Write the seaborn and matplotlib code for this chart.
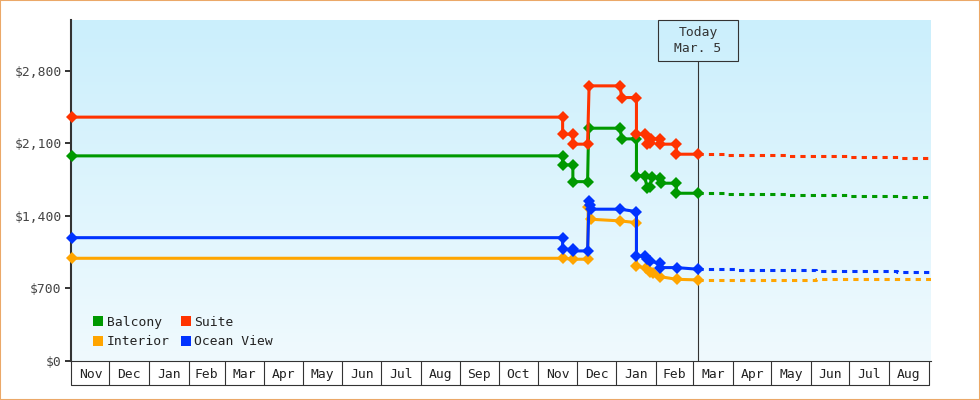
import numpy as np
import pandas as pd
import matplotlib
matplotlib.use('Agg')
import matplotlib.pyplot as plt
import matplotlib.dates as mdates
import matplotlib.transforms as mtransforms
from matplotlib.patches import Rectangle
from matplotlib.lines import Line2D
from matplotlib.colors import LinearSegmentedColormap
import seaborn as sns

# ---------------- data ----------------
categories = ['Balcony', 'Suite', 'Interior', 'Ocean View']
palette = {'Balcony': '#009900', 'Suite': '#FF3300',
           'Interior': '#FFA500', 'Ocean View': '#0033FF'}

balcony_dates = ['2022-11-02', '2023-11-20', '2023-11-20', '2023-11-28', '2023-11-28',
                 '2023-12-09 12:00', '2023-12-10 08:00', '2024-01-04', '2024-01-05',
                 '2024-01-16 16:00', '2024-01-16 16:00', '2024-01-23', '2024-01-25',
                 '2024-01-27', '2024-01-29', '2024-02-04', '2024-02-04 12:00',
                 '2024-02-16 20:00', '2024-02-16 20:00', '2024-03-05']
balcony_prices = [1978, 1978, 1891, 1891, 1729,
                  1729, 2245, 2245, 2142,
                  2142, 1787, 1787, 1671,
                  1680, 1778, 1765, 1714,
                  1714, 1617, 1617]

suite_dates = ['2022-11-02', '2023-11-20', '2023-11-20', '2023-11-28', '2023-11-28',
               '2023-12-09 12:00', '2023-12-10 16:00', '2024-01-04', '2024-01-05',
               '2024-01-16 16:00', '2024-01-16 16:00', '2024-01-23', '2024-01-25',
               '2024-01-27', '2024-01-28', '2024-02-03 18:00', '2024-02-04',
               '2024-02-16 20:00', '2024-02-16 20:00', '2024-03-05']
suite_prices = [2352, 2352, 2187, 2187, 2091,
                2091, 2654, 2654, 2541,
                2541, 2187, 2187, 2091,
                2100, 2142, 2142, 2091,
                2091, 1994, 1994]

interior_dates = ['2022-11-02', '2023-11-20', '2023-11-28', '2023-12-09 12:00',
                  '2023-12-10', '2023-12-12', '2024-01-04', '2024-01-16 16:00',
                  '2024-01-16 16:00', '2024-01-24', '2024-01-27', '2024-01-29 20:00',
                  '2024-02-04', '2024-02-17', '2024-03-05']
interior_prices = [989, 989, 980, 980,
                   1488, 1366, 1350, 1333,
                   915, 893, 860, 844,
                   812, 786, 780]

ocean_dates = ['2022-11-02', '2023-11-20', '2023-11-20', '2023-11-28', '2023-11-28',
               '2023-12-09 12:00', '2023-12-10 16:00', '2023-12-11 08:00', '2023-12-12',
               '2024-01-04', '2024-01-16 16:00', '2024-01-16 16:00', '2024-01-23',
               '2024-01-25', '2024-01-27', '2024-02-04', '2024-02-04',
               '2024-02-17', '2024-03-05']
ocean_prices = [1188, 1188, 1076, 1076, 1060,
                1060, 1546, 1504, 1463,
                1463, 1440, 1012, 1008,
                985, 960, 941, 899,
                899, 883]

# projected prices (dotted), step changes
balcony_proj_dates = ['2024-03-05', '2024-03-27', '2024-05-13', '2024-06-29', '2024-08-09', '2024-09-02 12:00']
balcony_proj_prices = [1617, 1608, 1598, 1588, 1579, 1579]
suite_proj_dates = ['2024-03-05', '2024-03-27', '2024-05-13', '2024-06-29', '2024-08-09', '2024-09-02 12:00']
suite_proj_prices = [1994, 1984, 1975, 1965, 1955, 1955]
interior_proj_dates = ['2024-03-05', '2024-06-05', '2024-09-02 12:00']
interior_proj_prices = [783, 793, 793]
ocean_proj_dates = ['2024-03-05', '2024-04-04', '2024-06-05', '2024-08-07', '2024-09-02 12:00']
ocean_proj_prices = [883, 873, 864, 854, 854]

month_labels = ['Nov', 'Dec', 'Jan', 'Feb', 'Mar', 'Apr', 'May', 'Jun', 'Jul', 'Aug', 'Sep',
                'Oct', 'Nov', 'Dec', 'Jan', 'Feb', 'Mar', 'Apr', 'May', 'Jun', 'Jul', 'Aug']
y_ticks = [0, 700, 1400, 2100, 2800]
y_tick_labels = ['$0', '$700', '$1,400', '$2,100', '$2,800']
today = '2024-03-05'
today_label = 'Today\nMar. 5'
x_start, x_end = '2022-11-02', '2024-09-02 12:00'
y_max = 3290

# ---------------- frames ----------------
series = {
    'Balcony': (balcony_dates, balcony_prices, balcony_proj_dates, balcony_proj_prices),
    'Suite': (suite_dates, suite_prices, suite_proj_dates, suite_proj_prices),
    'Interior': (interior_dates, interior_prices, interior_proj_dates, interior_proj_prices),
    'Ocean View': (ocean_dates, ocean_prices, ocean_proj_dates, ocean_proj_prices),
}
solid_rows, proj_rows = [], []
for cab, (d, p, pd_, pp) in series.items():
    solid_rows += [{'cabin': cab, 'date': pd.Timestamp(a), 'price': b} for a, b in zip(d, p)]
    proj_rows += [{'cabin': cab, 'date': pd.Timestamp(a), 'price': b} for a, b in zip(pd_, pp)]
solid = pd.DataFrame(solid_rows)
proj = pd.DataFrame(proj_rows)

# ---------------- figure ----------------
sns.set_theme(style='white')
plt.rcParams['font.family'] = ['DejaVu Sans Mono', 'DejaVu Sans']
FS = 9.4

W, H = 980, 400
fig = plt.figure(figsize=(W / 100, H / 100), dpi=100)
fig.patch.set_facecolor('white')
L, R, T, B = 71, 930.7, 20, 360.7
rect = [L / W, (H - B) / H, (R - L) / W, (B - T) / H]
axw, axh = R - L, B - T

# gradient background
bg = fig.add_axes(rect, zorder=0)
cmap = LinearSegmentedColormap.from_list('bg', ['#F0FAFE', '#CBEFFC'])
bg.imshow(np.linspace(0, 1, 256).reshape(-1, 1)[::-1], aspect='auto', cmap=cmap,
          extent=[0, 1, 0, 1])
bg.set_axis_off()

ax = fig.add_axes(rect, zorder=1)
ax.patch.set_alpha(0)

lw = 2.2
sns.lineplot(data=proj, x='date', y='price', hue='cabin', hue_order=categories,
             palette=palette, estimator=None, sort=False, drawstyle='steps-post',
             linewidth=lw, linestyle=(0, (1.7, 1.7)), legend=False, ax=ax, zorder=3)
sns.lineplot(data=solid, x='date', y='price', hue='cabin', hue_order=categories,
             palette=palette, estimator=None, sort=False, marker='D', markersize=5.7,
             markeredgewidth=0, linewidth=lw, legend=False, ax=ax, zorder=4, clip_on=False)

x0, x1 = mdates.date2num(pd.Timestamp(x_start)), mdates.date2num(pd.Timestamp(x_end))
ax.set_xlim(x0, x1)
ax.set_ylim(0, y_max)
ax.set_xlabel('')
ax.set_ylabel('')

# y axis
ax.set_yticks(y_ticks, y_tick_labels)
ax.tick_params(axis='y', left=True, length=4.3, width=1.4, color='#333333', pad=2.5,
               labelsize=FS, labelcolor='#444444', direction='out')

# x axis: month bands
starts = pd.date_range('2022-11-01', '2024-09-01', freq='MS')
centers = []
for i in range(len(starts) - 1):
    a = max(mdates.date2num(starts[i]), x0)
    b = mdates.date2num(starts[i + 1])
    centers.append((a + b) / 2)
ax.set_xticks(centers, month_labels)
ax.set_xticks([mdates.date2num(s) for s in starts], minor=True)
band_pt = 24 * 0.72
ax.tick_params(axis='x', which='major', length=0, pad=5.5, labelsize=FS, labelcolor='#222222')
ax.tick_params(axis='x', which='minor', bottom=True, length=band_pt, width=0.8,
               color='#333333', direction='out')
trans = mtransforms.blended_transform_factory(ax.transData, ax.transAxes)
ax.add_line(Line2D([x0 - 1.0 / axw * (x1 - x0), mdates.date2num(starts[-1])],
                   [-24 / axh, -24 / axh], transform=trans, color='#333333', lw=0.8,
                   clip_on=False))

for s in ['top', 'right']:
    ax.spines[s].set_visible(False)
ax.spines['left'].set_color('#333333')
ax.spines['left'].set_linewidth(1.5)
ax.spines['bottom'].set_color('#333333')
ax.spines['bottom'].set_linewidth(0.8)
ax.grid(False)

# today marker
tnum = mdates.date2num(pd.Timestamp(today))
tx = (tnum - x0) / (x1 - x0)
bw, bh = 80 / axw, 41 / axh
ax.axvline(tnum, ymin=0, ymax=1 - bh, color='#333333', lw=0.8, zorder=2)
ax.add_patch(Rectangle((tx - bw / 2, 1 - bh), bw, bh, transform=ax.transAxes, fill=False,
                       ec='#333333', lw=0.8, clip_on=False, zorder=5))
ax.text(tx, 1 - bh / 2, today_label, transform=ax.transAxes, ha='center', va='center',
        multialignment='center', fontsize=FS, color='#333333', linespacing=1.3, zorder=6)

# legend (column-major: Balcony, Interior | Suite, Ocean View)
order = ['Balcony', 'Interior', 'Suite', 'Ocean View']
handles = [Line2D([0], [0], marker='s', ls='none', color=palette[c], ms=7.7, mew=0) for c in order]
ax.legend(handles, order, ncol=2, loc='lower left', bbox_to_anchor=(0.0255, 0.037),
          frameon=False, borderpad=0, borderaxespad=0, handlelength=0.85,
          handletextpad=0.2, columnspacing=0.8, labelspacing=0.5, fontsize=FS,
          labelcolor='#222222')

# figure border
fig.patches.append(Rectangle((0, 0), 1, 1, transform=fig.transFigure, fill=False,
                             edgecolor='#EBA868', lw=1.5))

fig.savefig('out.png', dpi=100)
